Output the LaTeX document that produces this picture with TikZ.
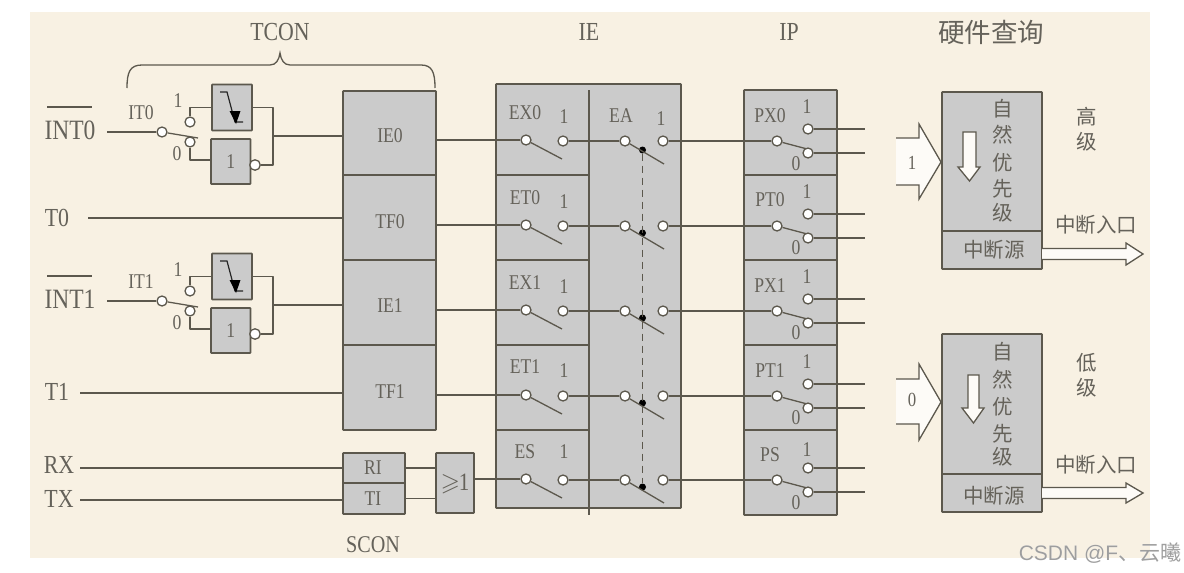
\documentclass[tikz,border=0pt]{standalone}
\usepackage{amssymb}
\usepackage{fontspec}
\setmainfont[FakeStretch=0.84]{Liberation Serif}
\newfontfamily\cjk{Noto Sans CJK SC}
\newfontfamily\wm{Liberation Sans}
\definecolor{paper}{HTML}{F8F1E3}
\definecolor{boxfill}{HTML}{CBCBCB}
\definecolor{ink}{HTML}{5C584D}
\definecolor{txt}{HTML}{65625A}
\definecolor{arrowfill}{HTML}{FDFBF7}
\tikzset{
  wire/.style={draw=ink,line width=1.3pt,line join=round},
  flag/.style={draw=ink,fill=boxfill,line width=1.6pt,inner sep=0pt,rounded corners=0.6pt},
  gate/.style={flag,text=txt,font=\fontsize{21}{21}\selectfont},
  term/.style={circle,draw=ink,fill=white,line width=1.3pt,inner sep=0pt,minimum size=10pt},
  pivot/.style={circle,fill=black,inner sep=0pt,minimum size=7pt},
  lab/.style={text=txt,inner sep=0pt,font=\fontsize{21}{21}\selectfont},
  biglab/.style={text=txt,inner sep=0pt,font=\fontsize{26}{26}\selectfont},
  cjklab/.style={text=txt,inner sep=0pt,font=\cjk\fontsize{20.5}{20.5}\selectfont},
  hollow/.style={draw=ink,fill=arrowfill,line width=1.3pt,line join=miter},
}
\begin{document}
\begin{tikzpicture}[x=1pt,y=-1pt]
\useasboundingbox (0,0) rectangle (1184,573);
\fill[white] (0,0) rectangle (1184,573);
\fill[paper] (30,12) rectangle (1150,558);

% titles
\node[biglab] (ttcon) at (280,32) {TCON};
\node[biglab] (tie) at (589,32) {IE};
\node[biglab] (tip) at (789,32) {IP};
\node[cjklab,font=\cjk\fontsize{26.5}{26.5}\selectfont] (thw) at (991,32) {硬件查询};
\draw[ink,line width=1.3pt] (127,88) .. controls (127,72) and (130,65) .. (142,65)
  -- (270,65) .. controls (276,65) and (279,60) .. (280,53)
  .. controls (281,60) and (284,65) .. (290,65)
  -- (421,65) .. controls (432,65) and (435,72) .. (435,88);

% flag column
\node[flag,minimum width=93pt,minimum height=84.5pt] (ie0) at (389.5,133.25) {};
\node[flag,minimum width=93pt,minimum height=85pt] (tf0) at (389.5,217.5) {};
\node[flag,minimum width=93pt,minimum height=85pt] (ie1) at (389.5,302.5) {};
\node[flag,minimum width=93pt,minimum height=85pt] (tf1) at (389.5,387.5) {};
\node[lab] at (390,136) {IE0};
\node[lab] at (390,222) {TF0};
\node[lab] at (390,306) {IE1};
\node[lab] at (390,392) {TF1};

% serial flags
\node[flag,minimum width=62pt,minimum height=30pt] (ri) at (374,468) {};
\node[flag,minimum width=62pt,minimum height=31pt] (ti) at (374,498.5) {};
\node[lab] at (373,468) {RI};
\node[lab] at (373,499) {TI};
\node[gate,minimum width=38pt,minimum height=60pt] (orgate) at (455,483) {};
\node[lab,text=txt,font=\fontsize{25}{25}\selectfont] at (455,484) {$\geqslant$\kern-1pt 1};
\node[biglab,font=\fontsize{24}{24}\selectfont] (scon) at (373,545) {SCON};

% IE and IP frames
\node[flag,minimum width=185pt,minimum height=424pt] (iebox) at (588.5,296) {};
\node[flag,minimum width=93pt,minimum height=425pt] (ipbox) at (790.5,302.5) {};
\coordinate (iev1) at (589,90);
\coordinate (iev2) at (589,515);
\draw[wire,line width=1.4pt] (iev1) -- (iev2);
\foreach \y in {175,260,345,430}{
  \draw[wire,line width=1.5pt] (496,\y) -- (589,\y);
  \draw[wire,line width=1.5pt] (744,\y) -- (837,\y);
}

% rows
\foreach \n/\lbl/\plbl/\y/\ly/\oy/\pl/\pone/\pzero/\pd in
  {0/EX0/PX0/140/113/117/116/107/164/150,
   1/ET0/PT0/225/198/202/200/192/248/233,
   2/EX1/PX1/310/283/287/286/277/333/318,
   3/ET1/PT1/395/367/371/371/362/418/403,
   4/ES/PS/479/452/452/455/450/503/487}{
  \pgfmathsetmacro{\ya}{\y+19}
  \pgfmathsetmacro{\yb}{\y+1}
  \pgfmathsetmacro{\yc}{\y+24}
  \pgfmathsetmacro{\yu}{\y-11}
  \pgfmathsetmacro{\yl}{\y+13}
  \pgfmathsetmacro{\yk}{\y+10}
  \node[lab] at (525,\ly) {\lbl};
  \node[lab] at (564,\oy) {1};
  \node[lab] at (770,\pl) {\plbl};
  \node[lab] at (807,\pone) {1};
  \node[lab] at (796,\pzero) {0};
  \node[term] (a\n) at (526,\y) {};
  \node[term] (b\n) at (563,\yb) {};
  \node[term] (c\n) at (625,\yb) {};
  \node[term] (d\n) at (663,\yb) {};
  \node[term] (e\n) at (777,\yb) {};
  \coordinate (eend\n) at (811,\yk);
  \draw[wire] (e\n) -- (eend\n);
  \node[term] (f\n) at (808,\yu) {};
  \node[term] (g\n) at (808,\yl) {};
  \coordinate (aend\n) at (562,\ya);
  \coordinate (cend\n) at (664,\yc);
  \coordinate (fout\n) at (865,\yu);
  \coordinate (gout\n) at (865,\yl);
  \node[pivot] (p\n) at (642.5,\pd) {};
  \draw[wire] (a\n) -- (aend\n);
  \draw[wire] (c\n) -- (cend\n);
  \draw[wire] (b\n) -- (c\n);
  \draw[wire] (d\n) -- (e\n);
  \draw[wire] (f\n) -- (fout\n);
  \draw[wire] (g\n) -- (gout\n);
}
\draw[ink,line width=1.5pt,dash pattern=on 7pt off 5pt] (p0) -- (p4);
\node[lab] at (621,116) {EA};
\node[lab] at (661,119) {1};
\foreach \a/\n in {ie0/0,tf0/1,ie1/2,tf1/3}{
  \draw[wire] (\a.east |- a\n) -- (a\n);
}
\draw[wire] (orgate.east |- a4) -- (a4);
\draw[wire] (ri.east) -- (ri.east -| orgate.west);
\draw[wire] (ti.east) -- (ti.east -| orgate.west);

% simple inputs
\node[biglab] (lt0) at (57,218) {T0};
\node[biglab] (lt1) at (57,392) {T1};
\node[biglab] (lrx) at (59,465) {RX};
\node[biglab] (ltx) at (59,499) {TX};
\coordinate (st0) at (88,218);
\coordinate (st1) at (80,393);
\coordinate (srx) at (80,468);
\coordinate (stx) at (80,500);
\draw[wire] (st0) -- (st0 -| tf0.west);
\draw[wire] (st1) -- (st1 -| tf1.west);
\draw[wire] (srx) -- (srx -| ri.west);
\draw[wire] (stx) -- (stx -| ti.west);

% external interrupts
\foreach \n/\d/\itl/\intl/\flagn in {0/0/IT0/INT0/ie0,1/169/IT1/INT1/ie1}{
  \begin{scope}[yshift=-\d pt]
  \node[biglab,font=\fontsize{28}{28}\selectfont] (int\n) at (70,130) {\intl};
  \coordinate (ovl\n) at (47,107);
  \coordinate (ovr\n) at (92,107);
  \draw[ink,line width=1.4pt] (ovl\n) -- (ovr\n);
  \node[lab,font=\fontsize{21}{21}\selectfont] at (141,113) {\itl};
  \node[lab] at (178,101) {1};
  \node[lab] at (177,154) {0};
  \coordinate (sw\n) at (107,132);
  \coordinate (arm\n) at (198,138);
  \node[term] (i\n) at (162,132) {};
  \node[term] (hi\n) at (190,122) {};
  \node[term] (lo\n) at (190,142) {};
  \draw[wire] (i\n) -- (arm\n);
  \node[gate,minimum width=40pt,minimum height=46pt] (eg\n) at (232,107.5) {};
  \node[gate,minimum width=39.5pt,minimum height=45pt] (ng\n) at (230.75,161.5) {1};
  \coordinate (jt\n) at (273,107);
  \coordinate (jb\n) at (273,165);
  \coordinate (jm\n) at (273,136);
  \node[term,minimum size=10.5pt] (bub\n) at (255,165) {};
  \draw[wire] (sw\n) -- (i\n);
  \draw[wire] (hi\n) |- (eg\n.west);
  \draw[wire] (lo\n) |- (ng\n.west |- 0,160);
  \draw[wire] (eg\n.east) -- (eg\n.east -| jt\n) -- (jb\n) -- (bub\n);
  \draw[wire] (jm\n) -- (jm\n -| \flagn.west);
  \draw[black!85,line width=1.2pt] (220,92) -- (227,92) -- (235,122) -- (243,122);
  \fill[black] (236,124) -- (229.5,111) -- (240.5,111) -- cycle;
  \end{scope}
}

% priority boxes
\foreach \n/\top/\mid/\bot/\in/\tip/\atop/\abot/\htop/\hbot/\val/\vy/\sa/\sb/\sc/\sl/\sr/\hl/\hr/\ay/\ahi/\alo/\aty/\ty/\tyb/\tyc/\tyd/\tye/\lvl/\lva/\lvb/\rty/\ry in
 {0/92/231/269/0/162/138/185/124/199/1/163/132/167/181/963/976/958/980/254/243/265/225/109/135/163/189/213/高/117/142/250/249,
  1/334/474/512/0/402/379/424/364/440/0/400/375/408/423/968/979/962/984/493/483/503/465/352/380/407/434/457/低/363/388/496/493}{
  \node[flag,minimum width=100pt,minimum height=\mid pt-\top pt] (prio\n) at (992,{(\top+\mid)/2}) {};
  \node[flag,minimum width=100pt,minimum height=\bot pt-\mid pt] (src\n) at (992,{(\mid+\bot)/2}) {};
  \node[cjklab] at (994,\rty) {中断源};
  \node[cjklab] at (1003,\ty) {自};
  \node[cjklab] at (1003,\tyb) {然};
  \node[cjklab] at (1003,\tyc) {优};
  \node[cjklab] at (1003,\tyd) {先};
  \node[cjklab] at (1003,\tye) {级};
  \node[cjklab] at (1087,\lva) {\lvl};
  \node[cjklab] at (1087,\lvb) {级};
  \node[cjklab] at (1096,\aty) {中断入口};
  % input block arrow
  \fill[arrowfill] (896,\atop) -- (919,\atop) -- (919,\htop) -- (941,\tip) -- (919,\hbot) -- (919,\abot) -- (896,\abot) -- cycle;
  \draw[ink,line width=1.3pt,line join=miter] (896,\atop) -- (919,\atop) -- (919,\htop) -- (941,\tip) -- (919,\hbot) -- (919,\abot) -- (896,\abot);
  \node[lab,font=\fontsize{20}{20}\selectfont] at (912,\vy) {\val};
  % down arrow
  \pgfmathsetmacro{\acx}{(\sl+\sr)/2}
  \draw[hollow] (\sl,\sa) -- (\sr,\sa) -- (\sr,\sb) -- (\hr,\sb) -- (\acx,\sc) -- (\hl,\sb) -- (\sl,\sb) -- cycle;
  % output arrow
  \pgfmathsetmacro{\oa}{\ay-5.5}
  \pgfmathsetmacro{\ob}{\ay+5.5}
  \draw[hollow] (1042,\oa) -- (1126,\oa) -- (1126,\ahi) -- (1143,\ay) -- (1126,\alo) -- (1126,\ob) -- (1042,\ob);
}
\node[text=white,inner sep=0pt,font=\wm\fontsize{21}{21}\selectfont] (wmb) at (1100,553) {CSDN @F\cjk、云曦};
\node[text=black!38,inner sep=0pt,font=\wm\fontsize{21}{21}\selectfont] (wmark) at (1100,553) {CSDN @F\cjk、云曦};
\end{tikzpicture}
\end{document}
